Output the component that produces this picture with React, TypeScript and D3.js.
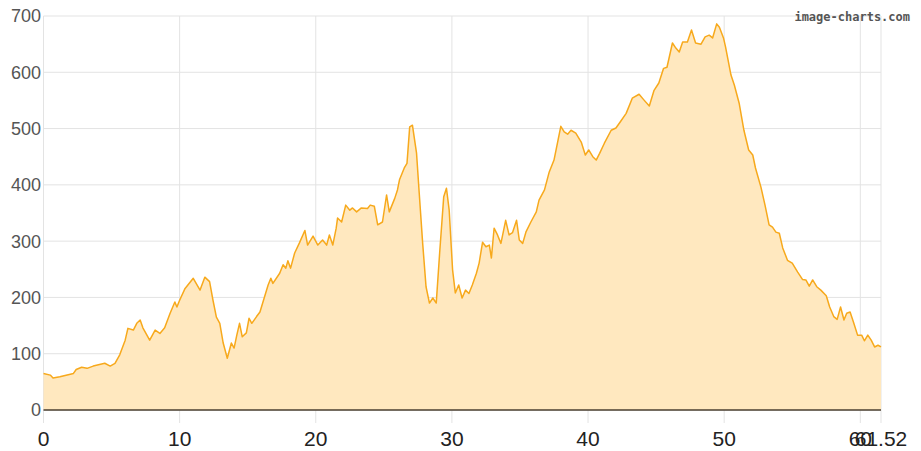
import React from "react";
import * as d3 from "d3";

const distanceKm = [
  0, 0.5, 0.7, 1.2, 2.2, 2.4, 2.8, 3.2, 3.65, 4.5, 4.9, 5.25, 5.6, 6.0, 6.2, 6.6, 6.85, 7.1, 7.3, 7.8,
  8.2, 8.55, 8.9, 9.3, 9.65, 9.8, 10.0, 10.4, 11.0, 11.5, 11.85, 12.2, 12.45, 12.7, 12.95, 13.2, 13.5,
  13.8, 14.0, 14.2, 14.4, 14.6, 14.9, 15.1, 15.3, 15.65, 15.9, 16.1, 16.5, 16.7, 16.85, 17.35, 17.6,
  17.8, 17.95, 18.15, 18.45, 18.8, 19.2, 19.4, 19.8, 20.15, 20.5, 20.8, 21.0, 21.25, 21.5, 21.6, 21.9,
  22.2, 22.5, 22.7, 23.0, 23.35, 23.8, 24.0, 24.3, 24.55, 24.9, 25.2, 25.4, 25.8, 26.0, 26.15, 26.5,
  26.7, 26.9, 27.1, 27.4, 27.6, 27.85, 28.1, 28.35, 28.6, 28.85, 29.1, 29.4, 29.6, 29.8, 30.05, 30.25,
  30.5, 30.75, 31.0, 31.25, 31.5, 31.8, 32.0, 32.25, 32.5, 32.75, 32.9, 33.1, 33.35, 33.6, 33.95, 34.2,
  34.45, 34.75, 34.95, 35.2, 35.45, 35.8, 36.2, 36.4, 36.8, 37.15, 37.5, 37.8, 38.0, 38.25, 38.5, 38.75,
  39.1, 39.5, 39.8, 40.05, 40.35, 40.6, 40.85, 41.2, 41.7, 42.05, 42.4, 42.8, 43.25, 43.75, 44.1, 44.5,
  44.85, 45.2, 45.55, 45.8, 46.2, 46.45, 46.7, 46.95, 47.3, 47.6, 47.9, 48.3, 48.6, 48.9, 49.15, 49.45,
  49.65, 49.95, 50.1, 50.5, 50.75, 51.1, 51.45, 51.8, 52.1, 52.3, 52.7, 53.0, 53.3, 53.55, 53.8, 54.05,
  54.3, 54.65, 55.0, 55.4, 55.75, 56.0, 56.25, 56.5, 56.8, 57.1, 57.5, 57.75, 58.05, 58.3, 58.55, 58.8,
  59.0, 59.25, 59.5, 59.8, 60.1, 60.3, 60.55, 60.8, 61.05, 61.3, 61.52,
];

const elevationM = [
  65, 62, 57, 59, 65, 72, 76, 74, 78, 83, 78, 83, 98, 124, 145, 142, 154, 160, 146, 124,
  142, 136, 146, 172, 192, 183, 195, 216, 234, 213, 236, 228, 195, 165, 154, 119, 92,
  119, 110, 133, 154, 130, 137, 163, 154, 166, 174, 190, 222, 234, 225, 243, 258,
  252, 265, 252, 279, 297, 319, 293, 309, 293, 302, 293, 311, 293, 323, 341, 334,
  364, 355, 359, 352, 359, 358, 364, 362, 329, 334, 382, 352, 376, 391, 409, 430,
  438, 503, 506, 457, 385, 297, 219, 190, 199, 190, 279, 379, 394, 355, 249, 208,
  222, 199, 213, 207, 222, 243, 261, 298, 290, 293, 270, 323, 311, 296, 337, 311,
  315, 337, 302, 296, 317, 334, 352, 373, 391, 423, 444, 480, 504, 494, 490, 497,
  492, 476, 453, 462, 450, 444, 456, 474, 497, 501, 513, 527, 554, 561, 551, 540,
  568, 581, 607, 609, 652, 643, 636, 654, 654, 675, 652, 650, 663, 666, 661, 686,
  680, 661, 645, 595, 577, 545, 497, 462, 453, 430, 396, 364, 329, 325, 316, 314,
  288, 266, 261, 245, 232, 231, 220, 231, 219, 213, 203, 183, 166, 161, 183, 160,
  172, 174, 156, 133, 133, 123, 133, 124, 112, 115, 112,
];

const xTicks = [0, 10, 20, 30, 40, 50, 60, 61.52];
const xTickLabels = ["0", "10", "20", "30", "40", "50", "60", "61.52"];
const yTicks = [0, 100, 200, 300, 400, 500, 600, 700];

const W = 921;
const H = 451;
const left = 43.5;
const right = 881;
const top = 16;
const bottom = 410;

export default function App() {
  const x = d3.scaleLinear().domain([0, 61.52]).range([left, right]);
  const y = d3.scaleLinear().domain([0, 700]).range([bottom, top]);
  const pts: [number, number][] = distanceKm.map((d, i) => [d, elevationM[i]]);
  const area = d3
    .area<[number, number]>()
    .x((d) => x(d[0]))
    .y0(y(0))
    .y1((d) => y(d[1]));
  const line = d3
    .line<[number, number]>()
    .x((d) => x(d[0]))
    .y((d) => y(d[1]));

  return (
    <svg
      width={W}
      height={H}
      style={{ position: "absolute", left: 0, top: 0, background: "#fff" }}
      fontFamily="'Liberation Sans', Arial, sans-serif"
    >
      {yTicks.map((t) => (
        <line key={"gy" + t} x1={left} x2={right} y1={y(t)} y2={y(t)} stroke="#e3e3e3" strokeWidth={1} />
      ))}
      {xTicks.map((t) => (
        <line key={"gx" + t} x1={x(t)} x2={x(t)} y1={top} y2={bottom + 13} stroke="#e3e3e3" strokeWidth={1} />
      ))}
      <path d={area(pts) || ""} fill="#ffe8bf" />
      <path d={line(pts) || ""} fill="none" stroke="#f7a91c" strokeWidth={1.5} strokeLinejoin="round" />
      <line x1={left} x2={right} y1={bottom} y2={bottom} stroke="#4a3f30" strokeWidth={1.5} />
      {yTicks.map((t) => (
        <text key={"ly" + t} x={41} y={y(t)} dy="0.36em" textAnchor="end" fontSize={18} fill="#555">
          {t}
        </text>
      ))}
      {xTicks.map((t, i) => (
        <text key={"lx" + t} x={x(t)} y={446} textAnchor="middle" fontSize={21} fill="#222">
          {xTickLabels[i]}
        </text>
      ))}
      <text
        x={910}
        y={21}
        textAnchor="end"
        fontSize={12}
        fontWeight="bold"
        fontFamily="'DejaVu Sans Mono', monospace"
        fill="#555"
      >
        image-charts.com
      </text>
    </svg>
  );
}
